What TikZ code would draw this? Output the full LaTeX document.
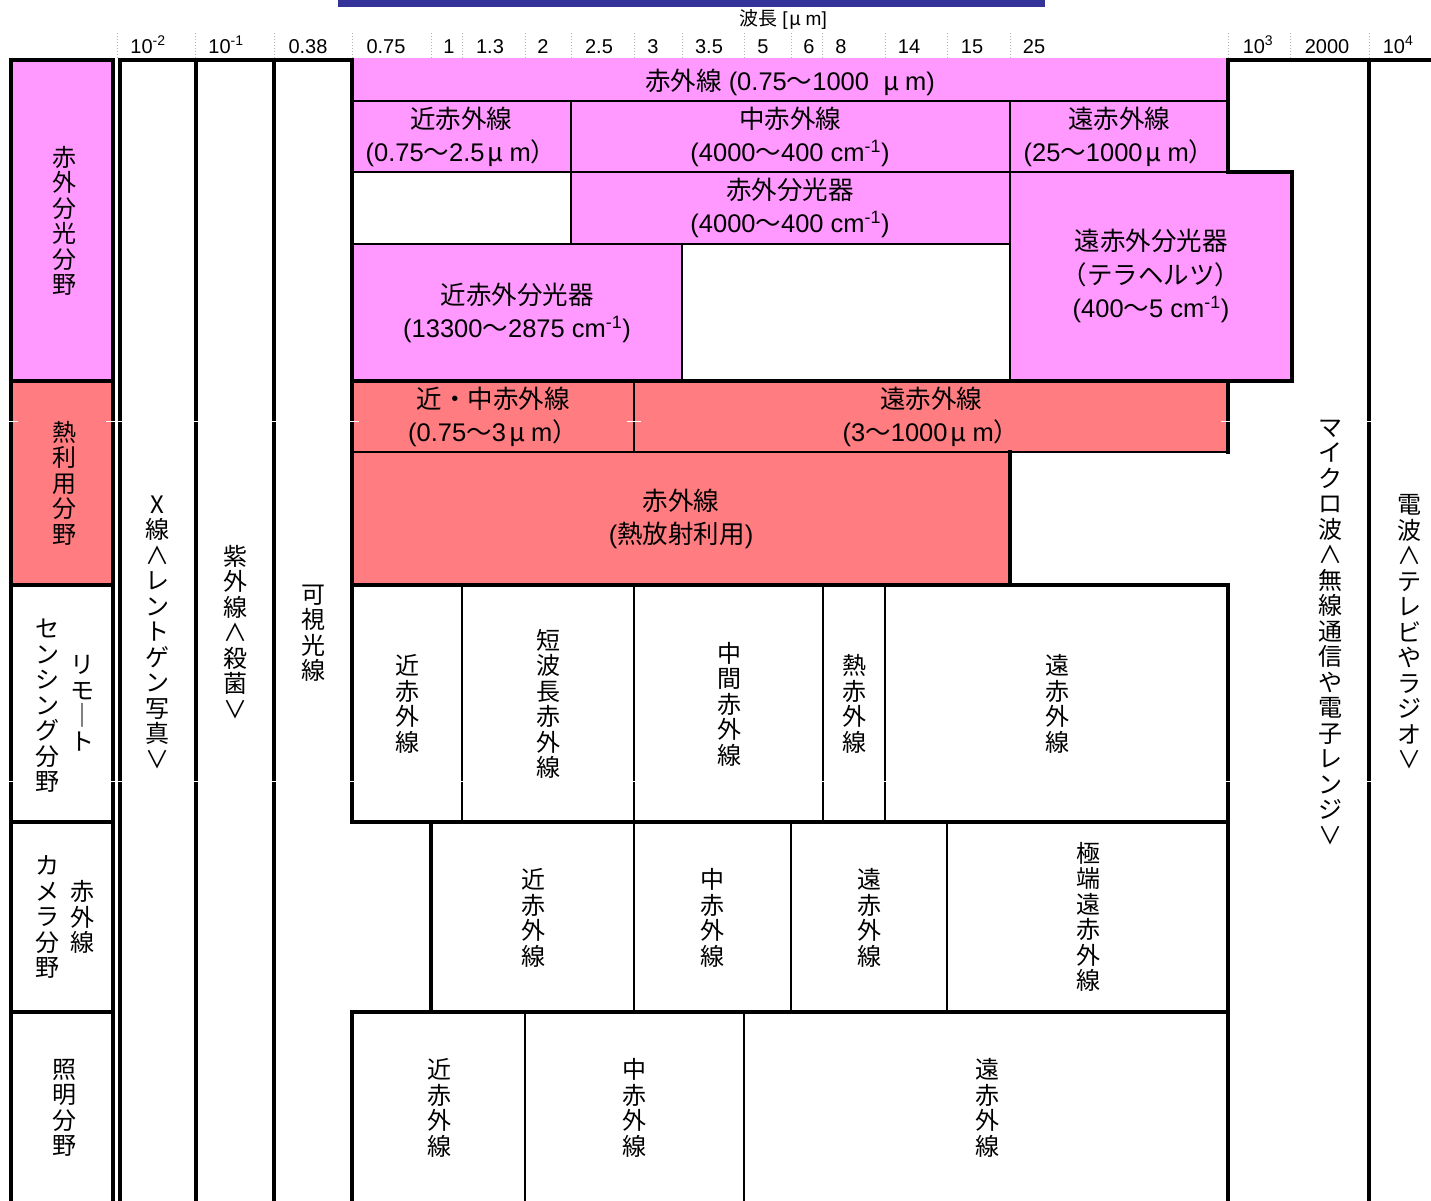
\documentclass[tikz,border=0pt]{standalone}
\usepackage{fontspec}
\setmainfont{Liberation Sans}
\newfontfamily\jp{Noto Sans CJK JP}
\definecolor{irpink}{HTML}{FF99FF}
\definecolor{irred}{HTML}{FF7C80}
\definecolor{linkblue}{HTML}{333399}
\newcommand{\mum}{\hspace{3pt}{\jp μ}\hspace{6pt}m}
\tikzset{
  thk/.style={line width=4pt, line cap=rect},
  mdl/.style={line width=2.6pt, line cap=rect},
  thn/.style={line width=1.5pt},
  dvd/.style={line width=2pt},
  hl/.style={font={\fontsize{25.5}{33.5}\selectfont}, align=center, inner sep=0pt},
  vl/.style={font={\jp\fontsize{24}{25.5}\selectfont}, align=center, inner sep=0pt},
  axlbl/.style={font={\fontsize{20}{22}\selectfont}, anchor=base, inner sep=0pt},
  tickline/.style={gray!60, dotted, line width=1pt},
  gapmark/.style={white, line width=1pt}
}
\begin{document}
\begin{tikzpicture}[x=1pt,y=-1pt]
\useasboundingbox (0,0) rectangle (1431,1200);
\fill[white] (0,0) rectangle (1431,1200);
% top link bar
\fill[linkblue] (338,0) rectangle (1045,7);
% axis
\node[font={\fontsize{19}{21}\selectfont}, inner sep=0pt] (axtitle) at (783,19) {{\jp 波長} [\hspace{2pt}{\jp μ}\hspace{4pt}m]};
\foreach \x in {117,195,274,352,431,462,525,571,634,682,744,791,822,885,947,1010,1228,1290,1369}
  \draw[tickline] (\x,33) -- (\x,58);
\foreach \x/\t [count=\i] in {148/10\textsuperscript{-2},226/10\textsuperscript{-1},308/0.38,386/0.75,449/1,490/1.3,543/2,599/2.5,653/3,709/3.5,763/5,809/6,841/8,909/14,972/15,1034/25,1258/10\textsuperscript{3},1327/2000,1398/10\textsuperscript{4}}
  \node[axlbl] (ax\i) at (\x,53) {\t};
% fills
\fill[irpink] (11,60) rectangle (113,381);
\fill[irred] (11,381) rectangle (113,585);
\fill[irpink] (352,58) rectangle (1228,172);
\fill[irpink] (571,172) rectangle (1010,244);
\fill[irpink] (1010,172) rectangle (1292,381);
\fill[irpink] (352,244) rectangle (682,381);
\fill[irred] (352,381) rectangle (1228,452);
\fill[irred] (352,452) rectangle (1010,585);
% thin lines in IR area
\draw[thn] (352,101) -- (1228,101);
\draw[thn] (571,101) -- (571,244);
\draw[thn] (352,172) -- (1228,172);
\draw[thn] (1010,101) -- (1010,381);
\draw[thn] (571,244) -- (1010,244);
\draw[thn] (634,381) -- (634,452);
\draw[mdl] (352,244) -- (682,244) -- (682,381);
\draw[mdl] (352,452) -- (1228,452);
% dividers in lower boxes
\foreach \x in {462,634,823,885} \draw[dvd] (\x,585) -- (\x,822);
\foreach \x in {634,791,947} \draw[dvd] (\x,822) -- (\x,1012);
\foreach \x in {525,744} \draw[dvd] (\x,1012) -- (\x,1215);
% thick frame lines
\draw[thk] (11,60) rectangle (113,1215);
\draw[thk] (11,381) -- (113,381) (11,585) -- (113,585) (11,822) -- (113,822) (11,1012) -- (113,1012);
\draw[thk] (120,1215) -- (120,60) -- (352,60);
\draw[thk] (196,60) -- (196,1215) (274,60) -- (274,1215);
\draw[thk] (352,60) -- (352,822);
\draw[thk] (1228,172) -- (1228,60) -- (1431,60);
\draw[thk] (1369,60) -- (1369,1215);
\draw[thk] (1228,172) -- (1292,172) -- (1292,381) -- (352,381);
\draw[thk] (1228,381) -- (1228,452);
\draw[thk] (1010,452) -- (1010,585);
\draw[thk] (352,585) rectangle (1228,822);
\draw[thk] (431,822) rectangle (1228,1012);
\draw[thk] (352,1215) -- (352,1012) -- (1228,1012) -- (1228,1215);
% small white marks
\foreach \x in {11,113,120,196,274,352,634,1228,1369}
  \draw[gapmark] ({\x-7},421) -- ({\x+7},421);
\foreach \x in {11,113,120,196,274,352,462,634,823,885,1228,1369}
  \draw[gapmark] ({\x-7},781) -- ({\x+7},781);
% horizontal labels
\node[hl] (irall) at (790,82) {{\jp 赤外線} (0.75{\jp 〜}1000\hspace{14pt}{\jp μ}\hspace{6pt}m)};
\node[hl] (nir) at (461,137) {{\jp 近赤外線}\\(0.75{\jp 〜}2.5\mum{\jp ）}};
\node[hl] (mir) at (790,137) {{\jp 中赤外線}\\(4000{\jp 〜}400 cm\textsuperscript{-1})};
\node[hl] (fir) at (1119,137) {{\jp 遠赤外線}\\(25{\jp 〜}1000\mum{\jp ）}};
\node[hl] (irspec) at (790,208) {{\jp 赤外分光器}\\(4000{\jp 〜}400 cm\textsuperscript{-1})};
\node[hl] (nirspec) at (517,313) {{\jp 近赤外分光器}\\(13300{\jp 〜}2875 cm\textsuperscript{-1})};
\node[hl] (firspec) at (1151,276) {{\jp 遠赤外分光器}\\{\jp （テラヘルツ）}\\(400{\jp 〜}5 cm\textsuperscript{-1})};
\node[hl] (heatnm) at (493,417) {{\jp 近・中赤外線}\\(0.75{\jp 〜}3\mum{\jp ）}};
\node[hl] (heatf) at (931,417) {{\jp 遠赤外線}\\(3{\jp 〜}1000\mum{\jp ）}};
\node[hl] (heatir) at (681,519) {{\jp 赤外線}\\({\jp 熱放射利用})};
% left column labels
\node[vl] (f1) at (64,221) {赤\\外\\分\\光\\分\\野};
\node[vl] (f2) at (64,483) {熱\\利\\用\\分\\野};
\node[vl] (f3a) at (82,703) {リ\\モ\\｜\\ト};
\node[vl] (f3b) at (47,706) {セ\\ン\\シ\\ン\\グ\\分\\野};
\node[vl] (f4a) at (82,917) {赤\\外\\線};
\node[vl] (f4b) at (47,917) {カ\\メ\\ラ\\分\\野};
\node[vl] (f5) at (64,1108) {照\\明\\分\\野};
% spectrum columns
\node[vl] (xray) at (157,632) {X\\線\\∧\\レ\\ン\\ト\\ゲ\\ン\\写\\真\\∨};
\node[vl] (uv) at (235,632) {紫\\外\\線\\∧\\殺\\菌\\∨};
\node[vl] (vis) at (313,633) {可\\視\\光\\線};
\node[vl] (mw) at (1330,632) {マ\\イ\\ク\\ロ\\波\\∧\\無\\線\\通\\信\\や\\電\\子\\レ\\ン\\ジ\\∨};
\node[vl] (radio) at (1409,632) {電\\波\\∧\\テ\\レ\\ビ\\や\\ラ\\ジ\\オ\\∨};
% remote sensing
\node[vl] (rs1) at (407,704) {近\\赤\\外\\線};
\node[vl] (rs2) at (548,704) {短\\波\\長\\赤\\外\\線};
\node[vl] (rs3) at (729,704) {中\\間\\赤\\外\\線};
\node[vl] (rs4) at (854,704) {熱\\赤\\外\\線};
\node[vl] (rs5) at (1057,704) {遠\\赤\\外\\線};
% camera
\node[vl] (cm1) at (533,918) {近\\赤\\外\\線};
\node[vl] (cm2) at (712,918) {中\\赤\\外\\線};
\node[vl] (cm3) at (869,918) {遠\\赤\\外\\線};
\node[vl] (cm4) at (1088,917) {極\\端\\遠\\赤\\外\\線};
% lighting
\node[vl] (lt1) at (439,1108) {近\\赤\\外\\線};
\node[vl] (lt2) at (634,1108) {中\\赤\\外\\線};
\node[vl] (lt3) at (987,1108) {遠\\赤\\外\\線};
\end{tikzpicture}
\end{document}
